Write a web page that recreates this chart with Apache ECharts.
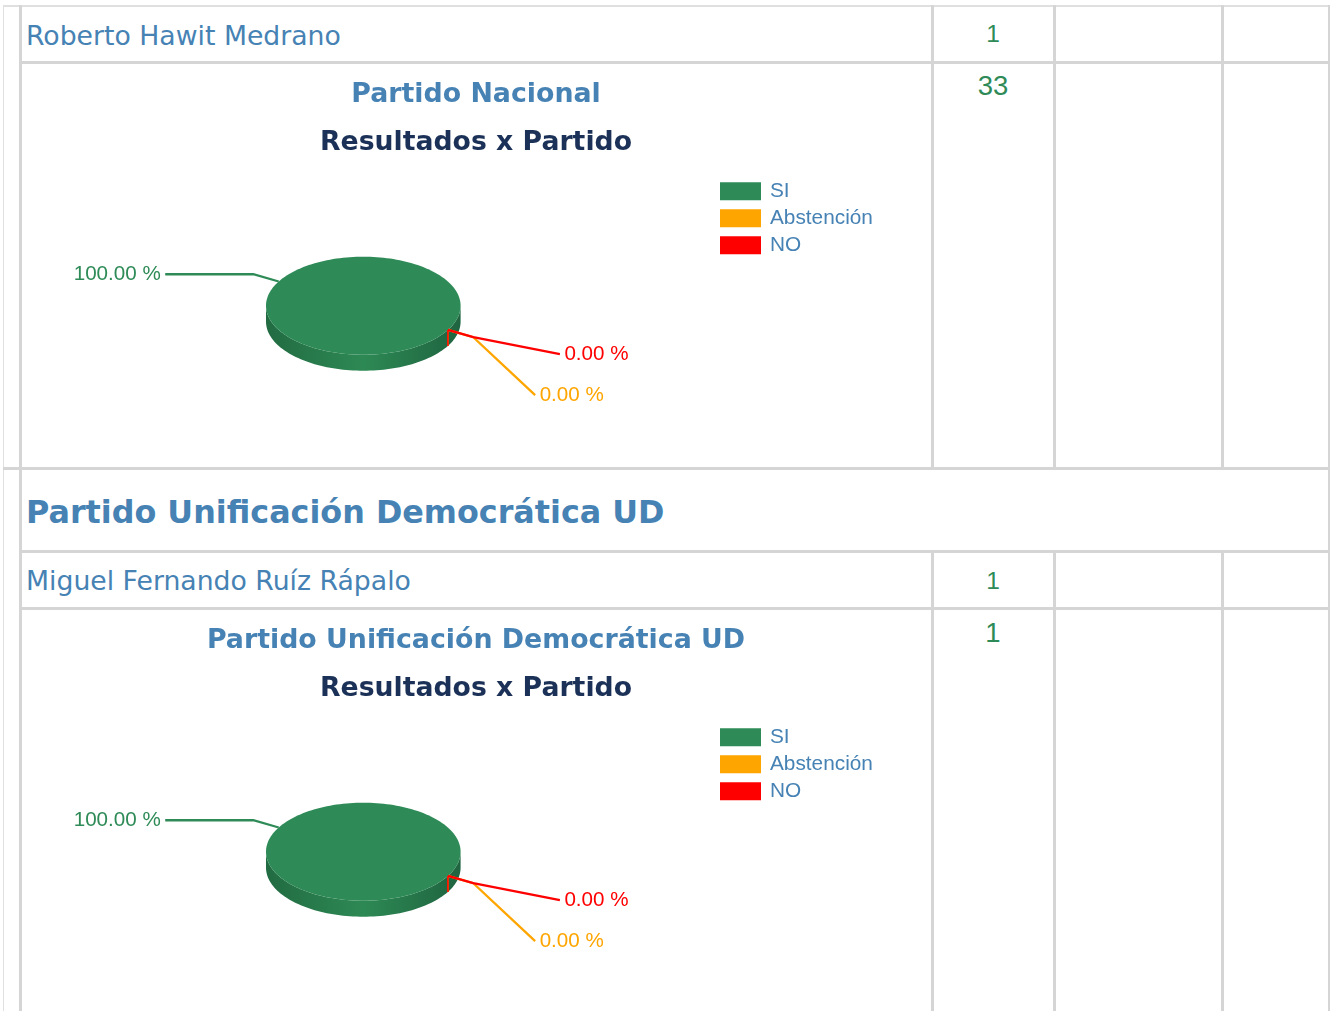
<!DOCTYPE html>
<html>
<head>
<meta charset="utf-8">
<script src="https://cdn.jsdelivr.net/npm/echarts@6/dist/echarts.min.js"></script>
<style>
body { margin:0; background:#fff; width:1333px; height:1011px; overflow:hidden; position:relative; font-family:'DejaVu Sans', Verdana, sans-serif; }
.ln { position:absolute; background:#d5d5d5; }
.txt { position:absolute; white-space:nowrap; line-height:1; }
.name { left:26px; font-size:26.7px; color:#4682B4; }
.head { left:26px; font-size:31.8px; font-weight:bold; color:#4682B4; }
.num { left:933px; width:120px; text-align:center; font-family:'Liberation Sans', Arial, sans-serif; color:#2E8B57; }
.chart { position:absolute; left:21px; width:910px; }
</style>
</head>
<body>
<!-- table grid -->
<div class="ln" style="left:3px;top:5px;width:1327px;height:2px;background:#e0e0e0"></div>
<div class="ln" style="left:3px;top:5px;width:1px;height:1006px;background:#e0e0e0"></div>
<div class="ln" style="left:19px;top:5px;width:3px;height:1006px"></div>
<div class="ln" style="left:1328px;top:5px;width:2px;height:1006px"></div>
<div class="ln" style="left:21px;top:61px;width:1309px;height:3px"></div>
<div class="ln" style="left:3px;top:467px;width:1327px;height:3px"></div>
<div class="ln" style="left:21px;top:550px;width:1309px;height:3px"></div>
<div class="ln" style="left:21px;top:607px;width:1309px;height:3px"></div>
<div class="ln" style="left:931px;top:5px;width:3px;height:463px"></div>
<div class="ln" style="left:1053px;top:5px;width:3px;height:463px"></div>
<div class="ln" style="left:1221px;top:5px;width:3px;height:463px"></div>
<div class="ln" style="left:931px;top:551px;width:3px;height:460px"></div>
<div class="ln" style="left:1053px;top:551px;width:3px;height:460px"></div>
<div class="ln" style="left:1221px;top:551px;width:3px;height:460px"></div>

<div class="txt name" style="top:22.5px">Roberto Hawit Medrano</div>
<div class="txt num" style="top:22px;font-size:24.5px">1</div>
<div class="chart" id="chart1" style="top:64px;height:403px"></div>
<div class="txt num" id="total1" style="top:72.4px;font-size:27.5px"></div>

<div class="txt head" style="top:496.2px">Partido Unificación Democrática UD</div>

<div class="txt name" style="top:568.2px">Miguel Fernando Ruíz Rápalo</div>
<div class="txt num" style="top:568.6px;font-size:24.5px">1</div>
<div class="chart" id="chart2" style="top:610px;height:401px"></div>
<div class="txt num" id="total2" style="top:618.5px;font-size:27.5px"></div>

<script>
// vote options and results per party
const categories = ['SI', 'Abstención', 'NO']
const valuesNacional = [33, 0, 0]
const valuesUD = [1, 0, 0]

const colors = ['#2E8B57', '#FFA500', '#FF0000']
// 3d pie layout, in chart pixels
const PIE = { cx: 342.3, cy: 241.7, rx: 97.3, ry: 49, depth: 16, start: 29.6 }

function arc(a0, a1, dy) {
  const n = Math.max(1, Math.ceil(Math.abs(a1 - a0) / 2))
  const pts = []
  for (let k = 0; k <= n; k++) {
    const a = (a0 + (a1 - a0) * k / n) * Math.PI / 180
    pts.push([PIE.cx + PIE.rx * Math.cos(a), PIE.cy + PIE.ry * Math.sin(a) + dy])
  }
  return pts
}

function sliceAngles(values) {
  const total = values.reduce((a, b) => a + b, 0)
  let acc = 0
  return values.map(v => {
    const a0 = PIE.start + 360 * acc / total
    acc += v
    return [a0, PIE.start + 360 * acc / total]
  })
}

// label positions: left labels sit at the elbow, right ones are spread downwards
function labelLayout(values) {
  const angles = sliceAngles(values)
  const out = []
  let lastRight = -Infinity
  for (let i = values.length - 1; i >= 0; i--) {
    const mid = (angles[i][0] + angles[i][1]) / 2 * Math.PI / 180
    const c = Math.cos(mid), s = Math.sin(mid)
    const anchor = [PIE.cx + PIE.rx * c, PIE.cy + PIE.ry * s]
    const elbow = [PIE.cx + 1.3 * PIE.rx * c, PIE.cy + 1.3 * PIE.ry * s]
    const right = c >= 0
    let y = elbow[1]
    if (right) {
      y = Math.max(y + 17, lastRight + 41)
      lastRight = y
    }
    const dy = (y - PIE.cy) / 161.5
    const x = PIE.cx + 2 + (right ? 1 : -1) * 204 * Math.sqrt(Math.max(0, 1 - dy * dy))
    out[i] = { anchor, elbow, end: [x, y], right }
  }
  return out
}

function renderSlice(values, i) {
  const total = values.reduce((a, b) => a + b, 0)
  const [a0, a1] = sliceAngles(values)[i]
  const color = colors[i]
  const children = []
  const wall = new echarts.graphic.LinearGradient(PIE.cx - PIE.rx, 0, PIE.cx + PIE.rx, 0, [
    { offset: 0, color: '#226b42' },
    { offset: 0.5, color: '#2d8954' },
    { offset: 1, color: '#1f6440' }
  ], true)
  if (values[i] === total) {
    children.push({ type: 'polygon', shape: { points: arc(0, 180, 0).concat(arc(180, 0, PIE.depth)) }, style: { fill: wall } })
    children.push({ type: 'polygon', shape: { points: arc(0, 360, 0) }, style: { fill: color } })
  } else if (values[i] > 0) {
    for (let k = -1; k <= 2; k++) {
      const lo = Math.max(a0, 360 * k), hi = Math.min(a1, 360 * k + 180)
      if (hi > lo) children.push({ type: 'polygon', shape: { points: arc(lo, hi, 0).concat(arc(hi, lo, PIE.depth)) }, style: { fill: wall } })
    }
    children.push({ type: 'polygon', shape: { points: [[PIE.cx, PIE.cy]].concat(arc(a0, a1, 0)) }, style: { fill: color } })
  } else {
    const p = arc(a0, a0, 0)[0]
    children.push({ type: 'line', shape: { x1: p[0], y1: p[1], x2: p[0], y2: p[1] + PIE.depth }, style: { stroke: color, lineWidth: 1.5 } })
  }
  const lab = labelLayout(values)[i]
  children.push({
    type: 'polyline',
    shape: { points: [lab.anchor, lab.elbow, lab.end] },
    style: { stroke: color, lineWidth: 2.3, fill: null }
  })
  children.push({
    type: 'text',
    style: {
      text: (values[i] / total * 100).toFixed(2) + ' %',
      x: lab.end[0] + (lab.right ? 4.5 : -4.5),
      y: lab.end[1],
      align: lab.right ? 'left' : 'right',
      verticalAlign: 'middle',
      fill: color,
      font: '20.6px "Liberation Sans", Arial, sans-serif'
    }
  })
  return { type: 'group', children }
}

function drawChart(el, title, values) {
  const chart = echarts.init(document.getElementById(el))
  chart.setOption({
    animation: false,
    title: {
      text: title,
      subtext: 'Resultados x Partido',
      left: 'center',
      top: 12.7,
      itemGap: 21.6,
      textStyle: { fontFamily: 'DejaVu Sans', fontWeight: 'bold', fontSize: 26.8, lineHeight: 26, color: '#4682B4' },
      subtextStyle: { fontFamily: 'DejaVu Sans', fontWeight: 'bold', fontSize: 26.7, lineHeight: 26, color: '#1b3157' }
    },
    legend: {
      orient: 'vertical',
      left: 699,
      top: 116.7,
      padding: 0,
      icon: 'rect',
      itemWidth: 41,
      itemHeight: 18,
      itemGap: 6,
      selectedMode: false,
      data: categories,
      textStyle: { fontFamily: 'Liberation Sans', fontSize: 20.8, lineHeight: 18, color: '#4682B4', padding: [0, 0, 0, 4] }
    },
    series: categories.map((name, i) => ({
      type: 'custom',
      name: name,
      coordinateSystem: 'none',
      silent: true,
      itemStyle: { color: colors[i] },
      data: [values[i]],
      renderItem: () => renderSlice(values, i)
    }))
  })
}

drawChart('chart1', 'Partido Nacional', valuesNacional)
drawChart('chart2', 'Partido Unificación Democrática UD', valuesUD)
document.getElementById('total1').textContent = valuesNacional.reduce((a, b) => a + b, 0)
document.getElementById('total2').textContent = valuesUD.reduce((a, b) => a + b, 0)
</script>
</body>
</html>
